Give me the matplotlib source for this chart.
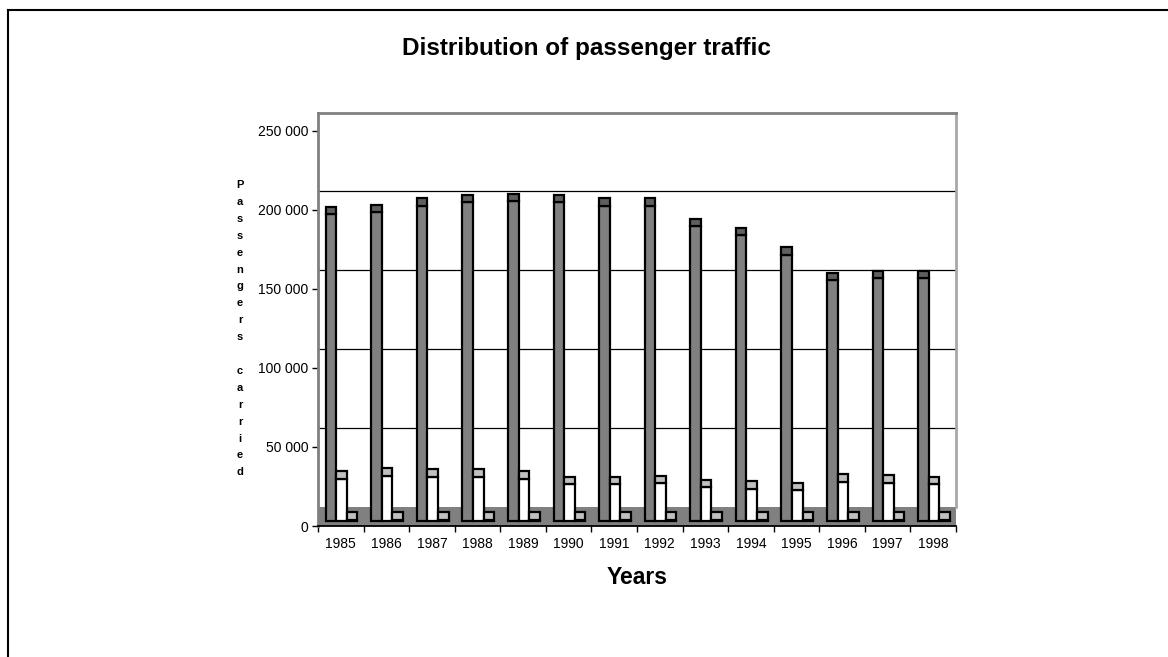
import matplotlib.pyplot as plt
from matplotlib.lines import Line2D
import numpy as np

plt.rcParams['font.family'] = ['Liberation Sans', 'DejaVu Sans']

years = ['1985', '1986', '1987', '1988', '1989', '1990', '1991',
         '1992', '1993', '1994', '1995', '1996', '1997', '1998']
# three series (passengers carried)
dark_vals = [194300, 195300, 199400, 201700, 202500, 201900, 199400,
             199400, 186700, 181000, 168400, 152500, 153800, 153800]
white_vals = [26800, 28500, 28000, 28000, 26600, 23400, 23400,
              24000, 21500, 20300, 19600, 24900, 24200, 23200]
light_vals = [800, 800, 800, 800, 800, 800, 800,
              800, 800, 800, 800, 800, 800, 800]
yticks = [0, 50000, 100000, 150000, 200000, 250000]
ytick_labels = ['0', '50 000', '100 000', '150 000', '200 000', '250 000']

W, H = 1168, 657
fig = plt.figure(figsize=(W / 100, H / 100), dpi=100)

# axes box in pixels
x0, x1, y0, y1 = 318, 956, 526, 113
ax = fig.add_axes([x0 / W, 1 - y0 / H, (x1 - x0) / W, (y0 - y1) / H])
ymax = (y0 - y1) / 1.58 * 1000
ax.set_xlim(0, len(years))
ax.set_ylim(0, ymax)

depth = 4700      # height of the 3d top face
base = 3200       # bars sit a little behind the front edge
back = 12000      # back wall offset

# floor and back wall gridlines
ax.axhspan(0, back, color='#808080', zorder=1, lw=0)
ax.hlines([t + back for t in yticks[1:-1]], 0, len(years), color='black', lw=0.9, zorder=1)

x = np.arange(len(years))
w = 0.232
pos = [x + 0.17 + w / 2, x + 0.17 + 1.5 * w, x + 0.17 + 2.5 * w]
series = [(dark_vals, '#808080', '#5f5f5f'),
          (white_vals, '#ffffff', '#c0c0c0'),
          (light_vals, '#c0c0c0', '#c0c0c0')]
for p, (vals, fc, cc) in zip(pos, series):
    vals = np.array(vals)
    ax.bar(p, vals, width=w, bottom=base, color=fc, edgecolor='black', lw=1.6, zorder=3)
    ax.bar(p, depth, width=w, bottom=base + vals, color=cc, edgecolor='black', lw=1.6, zorder=3)

# spines
for s in ['left', 'top', 'right']:
    ax.spines[s].set_color('#808080')
    ax.spines[s].set_linewidth(2)
ax.spines['right'].set_color('#a8a8a8')
ax.spines['right'].set_bounds(back, ymax)
ax.spines['bottom'].set_color('black')
ax.spines['bottom'].set_linewidth(1.3)

ax.set_yticks(yticks)
ax.set_yticklabels(ytick_labels, fontsize=10)
ax.tick_params(axis='y', length=4.3, width=1, color='black', pad=2.8)

ax.set_xticks(np.arange(len(years) + 1))
ax.set_xticklabels([])
ax.set_xticks(x + 0.5, minor=True)
ax.set_xticklabels(years, minor=True, fontsize=10)
ax.tick_params(axis='x', which='major', length=4.5, width=1, color='black')
ax.tick_params(axis='x', which='minor', length=0, pad=8)

# titles
fig.text(586 / W, 1 - 48 / H, 'Distribution of passenger traffic',
         ha='center', va='center', fontsize=17.5, fontweight='bold')
fig.text(637 / W, 1 - 578 / H, 'Years', ha='center', va='center',
         fontsize=16.5, fontweight='bold')

# vertical stacked axis title
label = 'Passengers carried'
for i, ch in enumerate(label):
    if ch != ' ':
        fig.text(240 / W, 1 - (185 + i * 16.9) / H, ch, ha='center', va='center',
                 fontsize=8, fontweight='bold')

# outer frame (left and top edges)
fig.add_artist(Line2D([8 / W, 8 / W], [1 - 10 / H, -0.1], color='black', lw=1.5))
fig.add_artist(Line2D([8 / W, 1.1], [1 - 10 / H, 1 - 10 / H], color='black', lw=1.5))

fig.savefig('out.png', dpi=100)
